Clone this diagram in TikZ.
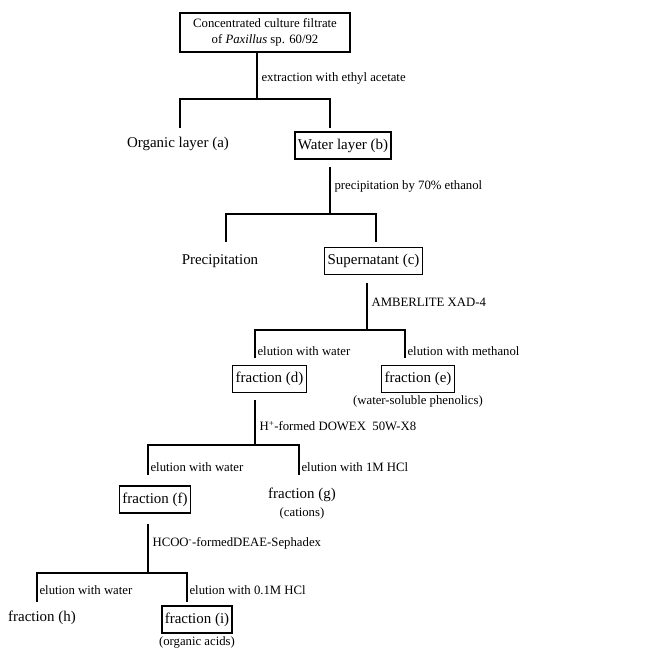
\documentclass[tikz,border=0pt]{standalone}
\usepackage{fontspec}
\setmainfont{Liberation Serif}
\usetikzlibrary{positioning}
\newcommand{\bigtxt}{\fontsize{15}{17}\selectfont}
\newcommand{\smalltxt}{\fontsize{12.8}{16}\selectfont}
\begin{document}
\begin{tikzpicture}[x=1bp,y=-1bp,
 every node/.style={align=center},
 tree/.style={line width=1.1bp},
 box/.style={draw,line width=1.6bp,inner xsep=3bp,inner ysep=2bp,minimum height=27bp,font=\bigtxt},
 topbox/.style={draw,line width=1.6bp,minimum width=170bp,minimum height=39bp,font=\smalltxt},
 plain/.style={inner sep=1bp,font=\bigtxt},
 note/.style={inner sep=1bp,font=\smalltxt},
 trunklabel/.style={right,xshift=3bp,inner sep=1bp,font=\smalltxt},
 leglabel/.style={right,inner sep=2bp,font=\smalltxt}]
\useasboundingbox (0,0) rectangle (663,648);
\node[topbox] (top) at (265,32.5) {Concentrated culture filtrate\\of \textit{Paxillus} sp. 60/92};
\node[plain] (a) at (178,144) {Organic layer (a)};
\node[box] (b) at (343,145.5) {Water layer (b)};
\node[plain] (prec) at (220,261) {Precipitation};
\node[box] (c) at (373.5,261) {Supernatant (c)};
\node[box] (d) at (269.5,379) {fraction (d)};
\node[box] (e) at (418,379) {fraction (e)};
\node[note,below=1bp of e] (e-note) {(water-soluble phenolics)};
\node[box] (f) at (155,499.5) {fraction (f)};
\node[plain] (g) at (302,495) {fraction (g)};
\node[note,below=3bp of g] (g-note) {(cations)};
\node[plain] (h) at (42,618) {fraction (h)};
\node[box] (i) at (197,619.5) {fraction (i)};
\node[note,below=2bp of i] (i-note) {(organic acids)};
% junctions and free leg ends
\coordinate (j1) at (257,99);
\coordinate (a-in) at (180,128);
\coordinate (b-in) at (330,128);
\coordinate (j2) at (330,214);
\coordinate (prec-in) at (226,242);
\coordinate (c-in) at (376,242);
\coordinate (j3) at (367,330);
\coordinate (d-in) at (255,358);
\coordinate (e-in) at (405,358);
\coordinate (j4) at (255,445);
\coordinate (f-in) at (148,475);
\coordinate (g-in) at (299,475);
\coordinate (j5) at (148,573);
\coordinate (h-in) at (37,602);
\coordinate (i-in) at (187,602);
% trunks
\draw[tree] (top.south -| j1) -- node[trunklabel,pos=0.55]{extraction with ethyl acetate} (j1);
\draw[tree,shorten <=7bp] (b.south -| j2) -- node[trunklabel]{precipitation by 70\% ethanol} (j2);
\draw[tree,shorten <=8bp] (c.south -| j3) -- node[trunklabel]{AMBERLITE XAD-4} (j3);
\draw[tree,shorten <=7bp] (d.south -| j4) -- node[trunklabel,pos=0.63]{H\textsuperscript{+}-formed DOWEX\ \ 50W-X8} (j4);
\draw[tree,shorten <=10bp] (f.south -| j5) -- node[trunklabel]{HCOO\textsuperscript{-}-formedDEAE-Sephadex} (j5);
% branches
\draw[tree] (a-in) |- (j1) -| (b-in);
\draw[tree] (prec-in) |- (j2) -| (c-in);
\draw[tree] (d-in) |- node[leglabel,pos=0.12]{elution with water} (j3) -| node[leglabel,pos=0.88]{elution with methanol} (e-in);
\draw[tree] (f-in) |- node[leglabel,pos=0.135]{elution with water} (j4) -| node[leglabel,pos=0.865]{elution with 1M HCl} (g-in);
\draw[tree] (h-in) |- node[leglabel,pos=0.2]{elution with water} (j5) -| node[leglabel,pos=0.8]{elution with 0.1M HCl} (i-in);
\end{tikzpicture}
\end{document}
